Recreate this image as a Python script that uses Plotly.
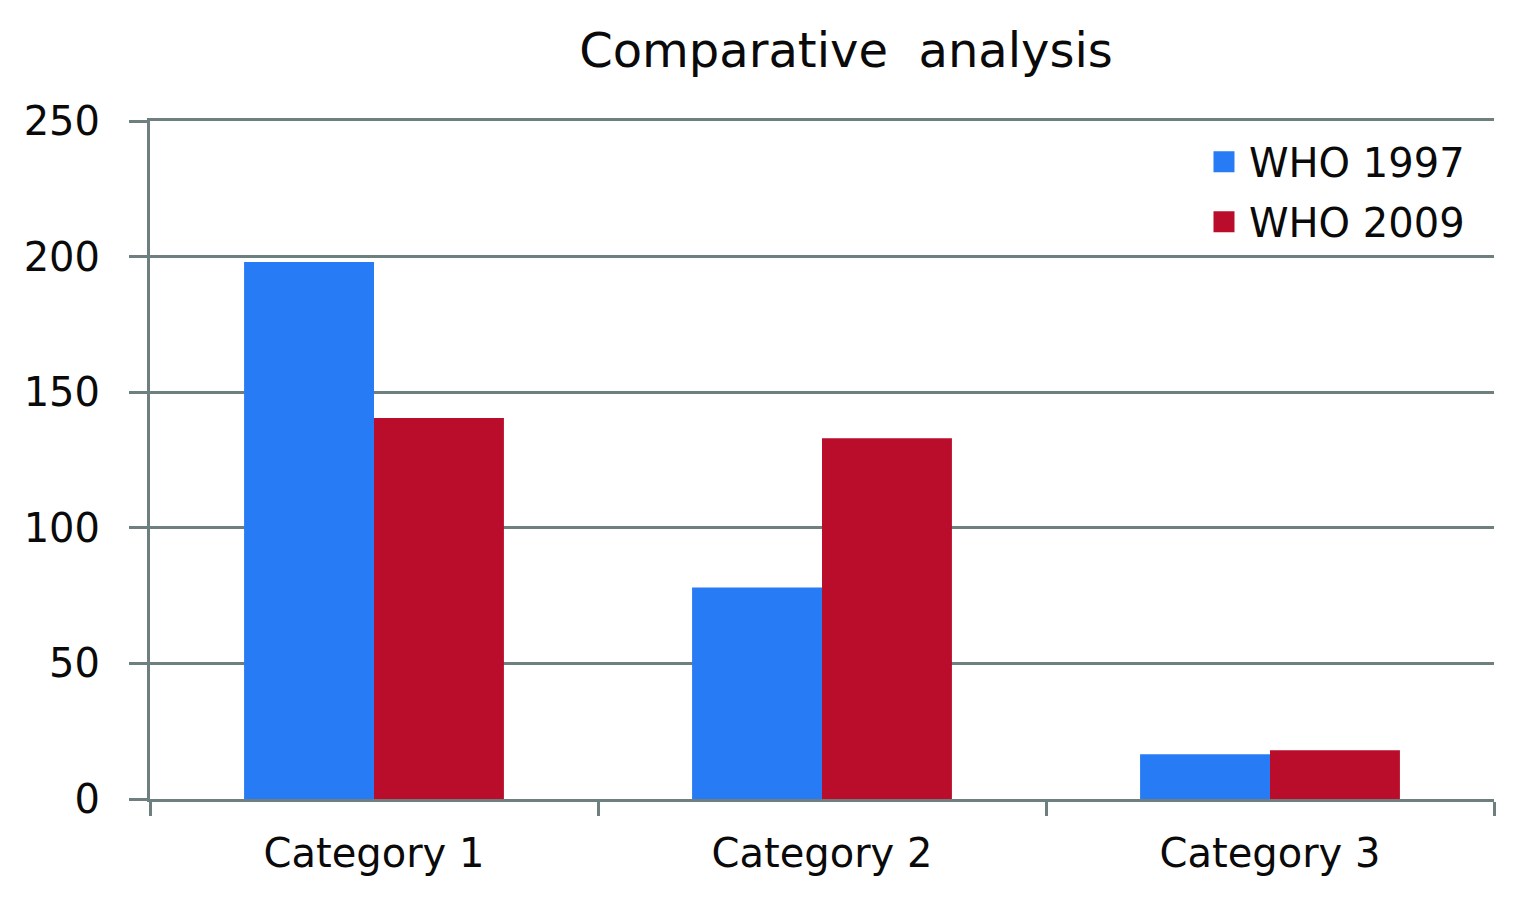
import plotly.graph_objects as go

categories = ["Category 1", "Category 2", "Category 3"]
who_1997 = [198, 78, 16.5]
who_2009 = [140.5, 133, 18]
series_names = ["WHO 1997", "WHO 2009"]
colors = ["#277BF4", "#BA0C2B"]
y_ticks = [0, 50, 100, 150, 200, 250]

grid = "#6E7F80"
font_family = "DejaVu Sans"
txt = "#0A0A0A"

fig = go.Figure()
for name, vals, col in zip(series_names, [who_1997, who_2009], colors):
    fig.add_trace(go.Bar(x=categories, y=vals, name=name, marker_color=col,
                         marker_line_width=0, showlegend=False, legendgroup=name))
for name, col in zip(series_names, colors):
    fig.add_trace(go.Scatter(x=[None], y=[None], mode="markers", name=name,
                             marker=dict(symbol="square", size=26, color=col,
                                         line=dict(color=col, width=6)),
                             legendgroup=name, showlegend=True))

fig.update_layout(
    width=1522, height=903,
    margin=dict(l=142, r=36, t=113, b=112),
    paper_bgcolor="white", plot_bgcolor="white",
    barmode="group", bargap=0.42, bargroupgap=0,
    title=dict(text="Comparative  analysis", x=0.5506, xanchor="center", y=0.9535, yanchor="middle",
               font=dict(family=font_family, size=48, color=txt)),
    font=dict(family=font_family, size=40, color=txt),
    legend=dict(x=0.7805, y=0.988, xanchor="left", yanchor="top", bgcolor="rgba(0,0,0,0)",
                font=dict(size=40, color=txt), itemsizing="trace", tracegroupgap=5,
                itemwidth=40),
    showlegend=True,
)
fig.update_yaxes(range=[0, 250], tickvals=y_ticks, showgrid=True, gridcolor=grid, gridwidth=3,
                 showline=True, linecolor=grid, linewidth=3, ticks="outside", ticklen=18,
                 tickcolor=grid, tickwidth=3, zeroline=False, ticklabelstandoff=21,
                 tickfont=dict(family=font_family, size=40, color=txt))
fig.update_xaxes(showline=True, linecolor=grid, linewidth=3, ticks="outside", ticklen=14,
                 tickcolor=grid, tickwidth=3, tickson="boundaries", mirror=True,
                 ticklabelstandoff=17,
                 tickfont=dict(family=font_family, size=40, color=txt))

fig.write_html("out.html")
